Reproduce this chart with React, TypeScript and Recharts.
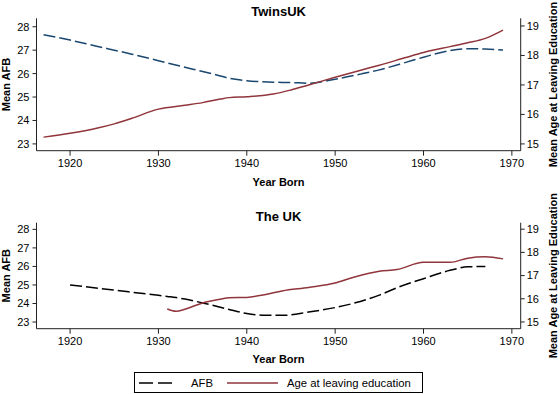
import React from "react";
import { LineChart, Line, XAxis, YAxis } from "recharts";

// TwinsUK panel
const twinsYears = [1917, 1920, 1923, 1925, 1927, 1930, 1933, 1935, 1937, 1938, 1940, 1943, 1945, 1947, 1950, 1953, 1955, 1958, 1960, 1963, 1965, 1967, 1969];
const twinsAfb = [27.66, 27.43, 27.17, 27.0, 26.83, 26.55, 26.27, 26.09, 25.9, 25.8, 25.7, 25.63, 25.62, 25.59, 25.76, 25.99, 26.16, 26.48, 26.7, 26.98, 27.06, 27.05, 27.0];
const twinsEdu = [15.23, 15.36, 15.53, 15.68, 15.87, 16.18, 16.31, 16.4, 16.52, 16.57, 16.6, 16.69, 16.83, 17.0, 17.26, 17.51, 17.67, 17.93, 18.1, 18.3, 18.43, 18.58, 18.86];

// UK panel
const ukYears = [1920, 1925, 1930, 1931, 1932, 1933, 1935, 1937, 1938, 1940, 1942, 1944, 1947, 1950, 1952, 1955, 1957, 1960, 1963, 1965, 1967, 1969];
const ukAfb = [25.0, 24.72, 24.44, 24.38, 24.32, 24.24, 24.03, 23.8, 23.68, 23.46, 23.37, 23.36, 23.54, 23.78, 24.0, 24.45, 24.85, 25.34, 25.79, 25.98, 26.0, null];
const ukEdu = [null, null, null, 15.56, 15.46, 15.55, 15.82, 15.98, 16.04, 16.06, 16.17, 16.34, 16.49, 16.68, 16.92, 17.19, 17.26, 17.57, 17.57, 17.75, 17.81, 17.72];

const yearTicks = [1920, 1930, 1940, 1950, 1960, 1970];
const afbTicks = [23, 24, 25, 26, 27, 28];
const eduTicks = [15, 16, 17, 18, 19];

const twinsData = twinsYears.map((year, i) => ({ year, afb: twinsAfb[i], edu: twinsEdu[i] }));
const ukData = ukYears.map((year, i) => ({ year, afb: ukAfb[i], edu: ukEdu[i] }));

const font = "'Liberation Sans', Arial, Helvetica, sans-serif";
const tickStyle = { fontSize: 11, fill: "#000", fontFamily: font };
const axisColor = "#222";
const blue = "#1a476f";
const maroon = "#90353b";

function Panel({
  data,
  height,
  margin,
  afbDomain,
  eduDomain,
  afbColor,
}: {
  data: any[];
  height: number;
  margin: { top: number; right: number; left: number; bottom: number };
  afbDomain: [number, number];
  eduDomain: [number, number];
  afbColor: string;
}) {
  return (
    <LineChart width={560} height={height} data={data} margin={margin}>
      <XAxis
        dataKey="year"
        type="number"
        domain={[1916.2, 1971]}
        ticks={yearTicks}
        allowDataOverflow
        height={30}
        tick={tickStyle}
        tickSize={5}
        tickMargin={3}
        stroke={axisColor}
      />
      <YAxis
        yAxisId="afb"
        orientation="left"
        width={36.5}
        domain={afbDomain}
        ticks={afbTicks}
        allowDataOverflow
        tick={tickStyle}
        tickSize={4}
        tickMargin={3}
        stroke={axisColor}
      />
      <YAxis
        yAxisId="edu"
        orientation="right"
        width={39.3}
        domain={eduDomain}
        ticks={eduTicks}
        allowDataOverflow
        tick={tickStyle}
        tickSize={4}
        tickMargin={2}
        stroke={axisColor}
      />
      <Line
        yAxisId="afb"
        type="monotone"
        dataKey="afb"
        stroke={afbColor}
        strokeWidth={1.5}
        strokeDasharray="12 4"
        dot={false}
        isAnimationActive={false}
      />
      <Line
        yAxisId="edu"
        type="monotone"
        dataKey="edu"
        stroke={maroon}
        strokeWidth={1.5}
        dot={false}
        isAnimationActive={false}
      />
    </LineChart>
  );
}

function Labels() {
  const bold = { fontFamily: font, fontWeight: 700, fill: "#000" } as const;
  return (
    <svg width={560} height={394} style={{ position: "absolute", left: 0, top: 0, pointerEvents: "none" }}>
      <text x={278.6} y={11.7} textAnchor="middle" dominantBaseline="central" fontSize={13} {...bold}>TwinsUK</text>
      <text x={278.6} y={181.7} textAnchor="middle" dominantBaseline="central" fontSize={11} {...bold}>Year Born</text>
      <text x={6} y={84.5} textAnchor="middle" dominantBaseline="central" fontSize={11} transform="rotate(-90 6 84.5)" {...bold}>Mean AFB</text>
      <text x={553} y={84.5} textAnchor="middle" dominantBaseline="central" fontSize={11} transform="rotate(-90 553 84.5)" {...bold}>Mean Age at Leaving Education</text>

      <text x={278.6} y={216.7} textAnchor="middle" dominantBaseline="central" fontSize={13} {...bold}>The UK</text>
      <text x={278.6} y={359.3} textAnchor="middle" dominantBaseline="central" fontSize={11} {...bold}>Year Born</text>
      <text x={6} y={275.7} textAnchor="middle" dominantBaseline="central" fontSize={11} transform="rotate(-90 6 275.7)" {...bold}>Mean AFB</text>
      <text x={553} y={275.7} textAnchor="middle" dominantBaseline="central" fontSize={11} transform="rotate(-90 553 275.7)" {...bold}>Mean Age at Leaving Education</text>
    </svg>
  );
}

function LegendBox() {
  return (
    <div
      style={{
        position: "absolute",
        left: 134,
        top: 372,
        width: 287,
        height: 19,
        border: "1px solid #000",
        background: "#fff",
        fontFamily: font,
      }}
    >
      <svg width={287} height={19} style={{ position: "absolute", left: 0, top: 0 }}>
        <line x1={4} y1={10} x2={39} y2={10} stroke="#000" strokeWidth={1.5} strokeDasharray="14 5" />
        <text x={56} y={10} dominantBaseline="central" fontSize={11.3} fontFamily={font} fill="#000">AFB</text>
        <line x1={92} y1={10} x2={143} y2={10} stroke={maroon} strokeWidth={1.5} />
        <text x={152} y={10} dominantBaseline="central" fontSize={11.3} fontFamily={font} fill="#000">Age at leaving education</text>
      </svg>
    </div>
  );
}

export default function App() {
  return (
    <div style={{ position: "absolute", left: 0, top: 0, width: 560, height: 394, background: "#fff" }}>
      <div style={{ position: "absolute", left: 0, top: 0 }}>
        <Panel
          data={twinsData}
          height={195}
          margin={{ top: 18.3, right: 0, left: 0, bottom: 14.3 }}
          afbDomain={[22.71, 28.36]}
          eduDomain={[14.77, 19.26]}
          afbColor={blue}
        />
      </div>
      <div style={{ position: "absolute", left: 0, top: 195 }}>
        <Panel
          data={ukData}
          height={199}
          margin={{ top: 27.7, right: 0, left: 0, bottom: 35.3 }}
          afbDomain={[22.64, 28.36]}
          eduDomain={[14.71, 19.28]}
          afbColor="#000"
        />
      </div>
      <Labels />
      <LegendBox />
    </div>
  );
}
